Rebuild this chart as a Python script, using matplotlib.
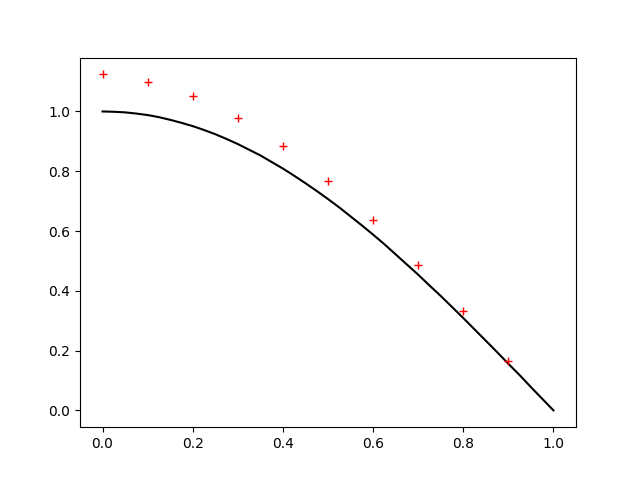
import matplotlib
matplotlib.use("Agg")
import matplotlib.pyplot as plt

# Smooth curve values
curve_x = [0.0, 0.025, 0.05, 0.075, 0.1, 0.125, 0.15, 0.175, 0.2, 0.225, 0.25,
           0.275, 0.3, 0.325, 0.35, 0.375, 0.4, 0.425, 0.45, 0.475, 0.5,
           0.525, 0.55, 0.575, 0.6, 0.625, 0.65, 0.675, 0.7, 0.725, 0.75,
           0.775, 0.8, 0.825, 0.85, 0.875, 0.9, 0.925, 0.95, 0.975, 1.0]
curve_y = [1.0, 0.999, 0.997, 0.993, 0.988, 0.981, 0.972, 0.962, 0.951, 0.938, 0.924,
           0.908, 0.891, 0.872, 0.853, 0.831, 0.809, 0.785, 0.760, 0.734, 0.707,
           0.679, 0.649, 0.619, 0.588, 0.556, 0.522, 0.488, 0.454, 0.418, 0.383,
           0.346, 0.309, 0.271, 0.233, 0.195, 0.156, 0.118, 0.078, 0.039, 0.0]

# Marker points
pts_x = [0.0, 0.1, 0.2, 0.3, 0.4, 0.5, 0.6, 0.7, 0.8, 0.9]
pts_y = [1.124, 1.099, 1.053, 0.978, 0.884, 0.769, 0.636, 0.488, 0.331, 0.166]

fig, ax = plt.subplots(figsize=(6.4, 4.8), dpi=100)
ax.plot(curve_x, curve_y, color="black")
ax.plot(pts_x, pts_y, "r+")
fig.savefig("out.png")
